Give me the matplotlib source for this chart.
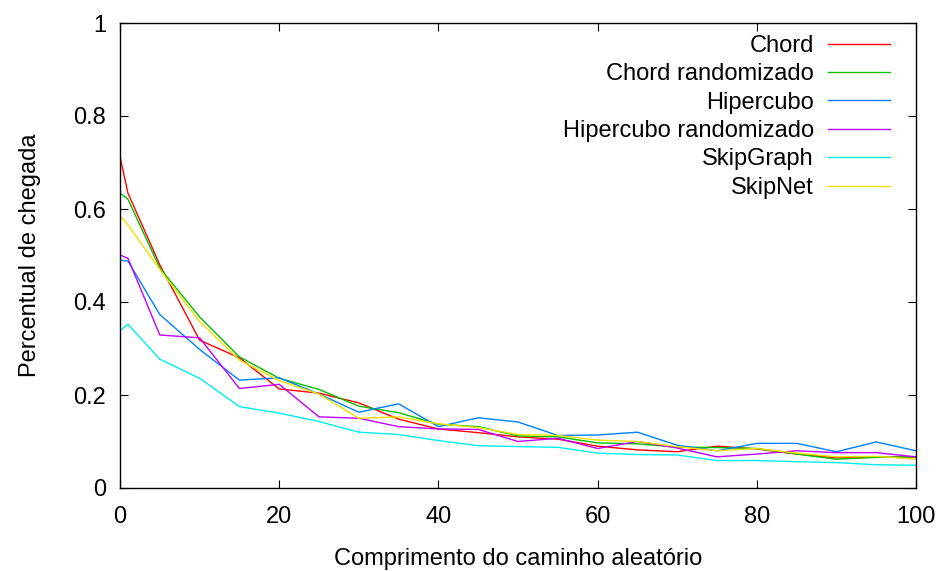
import matplotlib
matplotlib.use("Agg")
import matplotlib.pyplot as plt

x = [0, 1, 5, 10, 15, 20, 25, 30, 35, 40, 45, 50, 55, 60, 65, 70, 75, 80, 85, 90, 95, 100]

chord = [0.713, 0.634, 0.480, 0.318, 0.280, 0.213, 0.204, 0.183, 0.148, 0.127, 0.119, 0.110, 0.105, 0.090, 0.082, 0.078, 0.090, 0.084, 0.073, 0.065, 0.066, 0.067]
chord_rand = [0.634, 0.621, 0.473, 0.368, 0.282, 0.236, 0.212, 0.176, 0.162, 0.137, 0.132, 0.112, 0.110, 0.097, 0.095, 0.088, 0.087, 0.085, 0.073, 0.062, 0.066, 0.067]
hipercubo = [0.490, 0.488, 0.373, 0.298, 0.232, 0.237, 0.202, 0.163, 0.181, 0.132, 0.151, 0.142, 0.113, 0.114, 0.120, 0.092, 0.080, 0.096, 0.096, 0.078, 0.099, 0.080]
hipercubo_rand = [0.501, 0.494, 0.329, 0.323, 0.214, 0.223, 0.153, 0.150, 0.132, 0.127, 0.126, 0.100, 0.107, 0.085, 0.100, 0.086, 0.067, 0.073, 0.080, 0.076, 0.076, 0.067]
skipgraph = [0.338, 0.352, 0.277, 0.236, 0.175, 0.161, 0.143, 0.120, 0.115, 0.102, 0.091, 0.089, 0.0875, 0.075, 0.072, 0.071, 0.059, 0.059, 0.0566, 0.0546, 0.050, 0.049]
skipnet = [0.585, 0.566, 0.470, 0.358, 0.275, 0.231, 0.202, 0.150, 0.153, 0.138, 0.130, 0.115, 0.113, 0.103, 0.100, 0.089, 0.080, 0.085, 0.075, 0.067, 0.068, 0.062]

series = [chord, chord_rand, hipercubo, hipercubo_rand, skipgraph, skipnet]
labels = ["Chord", "Chord randomizado", "Hipercubo", "Hipercubo randomizado", "SkipGraph", "SkipNet"]
colors = ["#ff0000", "#00c000", "#0080ff", "#c000ff", "#00eeee", "#f0e000"]

xticks = [0, 20, 40, 60, 80, 100]
xtick_labels = ["0", "20", "40", "60", "80", "100"]
yticks = [0, 0.2, 0.4, 0.6, 0.8, 1.0]
ytick_labels = ["0", "0.2", "0.4", "0.6", "0.8", "1"]

plt.rcParams['font.family'] = ['Liberation Sans', 'DejaVu Sans']
FS = 17

W, H = 943, 571
fig = plt.figure(figsize=(W / 100, H / 100), dpi=100)
ax = fig.add_axes([120 / W, 1 - 488 / H, (916 - 120) / W, (488 - 23) / H])

for ys, lab, c in zip(series, labels, colors):
    ax.plot(x, ys, color=c, lw=1.0, label=lab)

ax.set_xlim(0, 100)
ax.set_ylim(0, 1)
ax.set_xticks(xticks)
ax.set_xticklabels(xtick_labels)
ax.set_yticks(yticks)
ax.set_yticklabels(ytick_labels)
ax.tick_params(direction='in', length=6, width=0.8, top=True, right=True, labelsize=FS)
ax.tick_params(axis='x', pad=13)
ax.tick_params(axis='y', pad=10)
for s in ax.spines.values():
    s.set_linewidth(1.0)

ax.set_xlabel("Comprimento do caminho aleatório", fontsize=FS, labelpad=14)
ax.set_ylabel("Percentual de chegada", fontsize=FS, labelpad=23)

leg = ax.legend(loc='upper right', bbox_to_anchor=(890 / W, 1 - 35 / H),
                bbox_transform=fig.transFigure, frameon=False, markerfirst=False,
                fontsize=FS, handlelength=2.63, handletextpad=0.6,
                labelspacing=0.27, borderpad=0, borderaxespad=0)

fig.savefig("out.png", dpi=100)
